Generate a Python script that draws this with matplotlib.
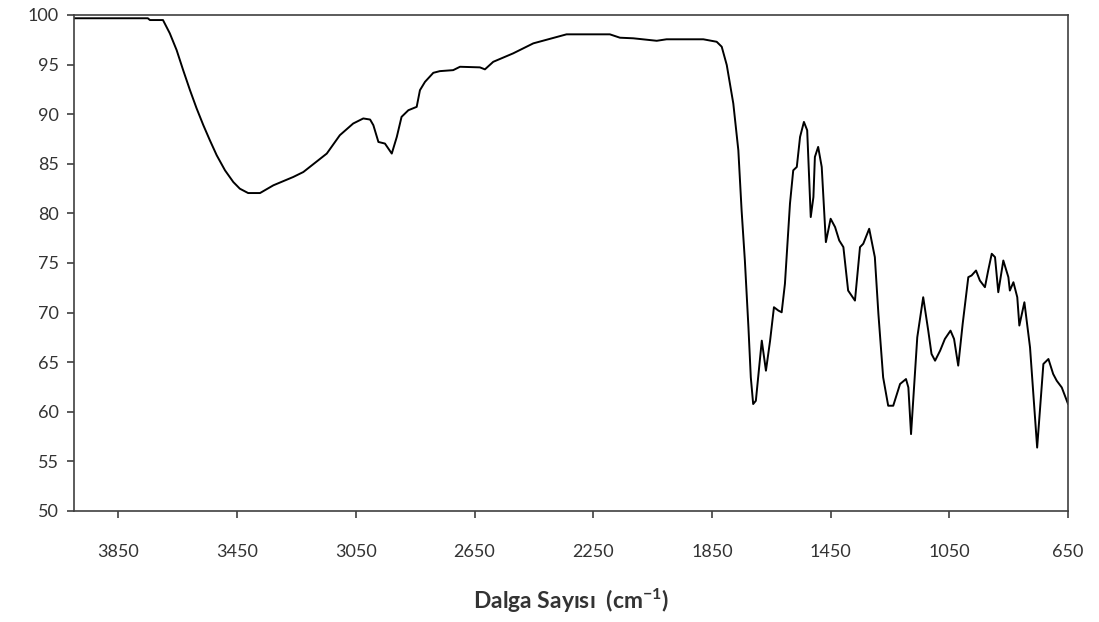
import numpy as np
import matplotlib
matplotlib.use('Agg')
from matplotlib import pyplot as plt

# FTIR spektrumu: dalga sayısı (cm-1) ve geçirgenlik (%T)
wavenumber = [4000, 3997, 3751, 3744, 3700, 3677, 3654, 3632, 3609, 3587,
              3564, 3542, 3519, 3491, 3463, 3441, 3413, 3373, 3328, 3261,
              3227, 3148, 3104, 3059, 3025, 3002, 2991, 2974, 2952, 2929,
              2912, 2896, 2873, 2845, 2834, 2817, 2789, 2767, 2722, 2699,
              2632, 2615, 2587, 2520, 2452, 2362, 2340, 2194, 2160, 2115,
              2036, 2003, 1879, 1834, 1817, 1800, 1778, 1761, 1750, 1739,
              1727, 1719, 1711, 1702, 1682, 1668, 1654, 1641, 1626, 1615,
              1604, 1587, 1576, 1564, 1553, 1540, 1529, 1517, 1508, 1503,
              1492, 1480, 1466, 1450, 1435, 1421, 1407, 1391, 1368, 1351,
              1340, 1320, 1301, 1289, 1273, 1256, 1239, 1216, 1196, 1188,
              1179, 1158, 1138, 1121, 1110, 1098, 1081, 1065, 1046, 1034,
              1020, 1005, 986, 975, 960, 947, 930, 919, 907, 896,
              885, 868, 851, 846, 834, 821, 814, 797, 778, 754,
              733, 716, 700, 688, 671, 652, 650]
transmittance = [99.67, 99.67, 99.67, 99.49, 99.49, 98.15, 96.46, 94.44, 92.42, 90.61,
                 88.89, 87.37, 85.86, 84.34, 83.16, 82.49, 82.05, 82.05, 82.83, 83.67,
                 84.17, 86.03, 87.88, 89.06, 89.57, 89.46, 88.89, 87.20, 87.04, 86.03,
                 87.71, 89.73, 90.40, 90.74, 92.42, 93.26, 94.17, 94.34, 94.44, 94.78,
                 94.72, 94.52, 95.28, 96.13, 97.14, 97.88, 98.05, 98.05, 97.71, 97.65,
                 97.40, 97.55, 97.55, 97.30, 96.80, 94.95, 91.08, 86.36, 80.30, 75.25,
                 68.52, 63.47, 60.78, 61.11, 67.17, 64.14, 67.17, 70.54, 70.20, 70.03,
                 72.90, 80.98, 84.34, 84.68, 87.71, 89.22, 88.38, 79.63, 81.65, 85.69,
                 86.70, 84.68, 77.10, 79.46, 78.62, 77.27, 76.60, 72.22, 71.21, 76.60,
                 76.94, 78.45, 75.59, 69.87, 63.47, 60.61, 60.61, 62.80, 63.30, 62.45,
                 57.75, 67.51, 71.55, 68.18, 65.83, 65.15, 66.16, 67.34, 68.18, 67.34,
                 64.65, 68.86, 73.57, 73.74, 74.24, 73.23, 72.56, 74.24, 75.93, 75.59,
                 72.05, 75.25, 73.57, 72.22, 73.06, 71.55, 68.69, 71.04, 66.49, 56.39,
                 64.82, 65.32, 63.81, 63.13, 62.45, 60.94, 60.80]

x_ticks = [3850, 3450, 3050, 2650, 2250, 1850, 1450, 1050, 650]
y_ticks = [50, 55, 60, 65, 70, 75, 80, 85, 90, 95, 100]

plt.rcParams['font.family'] = ['Lato', 'DejaVu Sans']
plt.rcParams['mathtext.default'] = 'regular'

text_color = '#333333'
axis_color = '#404040'

fig = plt.figure(figsize=(10.99, 6.22), dpi=100)
ax = fig.add_axes([0.0673, 0.1785, 0.9045, 0.7974])

ax.plot(wavenumber, transmittance, color='black', linewidth=1.4,
        solid_joinstyle='round')

ax.set_xlim(4000, 650)
ax.set_ylim(50, 100)
ax.set_xticks(x_ticks)
ax.set_yticks(y_ticks)

for spine in ax.spines.values():
    spine.set_color(axis_color)
    spine.set_linewidth(1.2)

ax.tick_params(axis='x', direction='out', length=5, width=1.2, color=axis_color,
               labelsize=13, labelcolor=text_color, pad=19)
ax.tick_params(axis='y', direction='out', length=5, width=1.2, color=axis_color,
               labelsize=13, labelcolor=text_color, pad=6)

ax.set_xlabel('Dalga Sayısı  (cm$^{-1}$)', fontsize=16.5, fontweight='bold',
              color=text_color, labelpad=19)

plt.savefig('out.png', dpi=100)
